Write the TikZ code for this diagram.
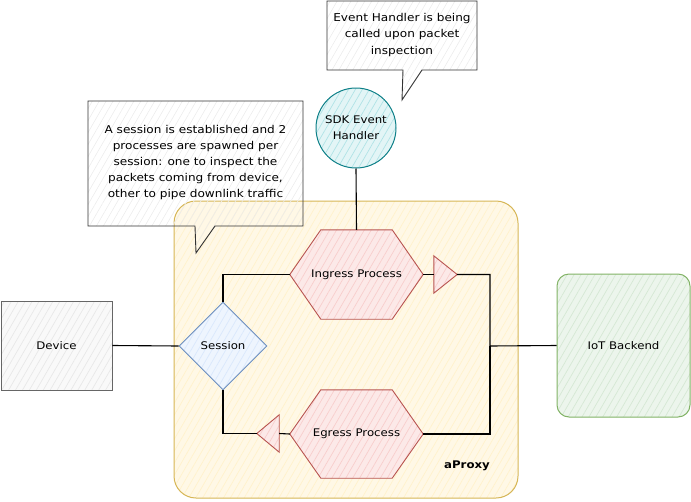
\documentclass[tikz,border=0pt]{standalone}
\usepackage{fontspec}
\setmainfont{DejaVu Sans}[FakeStretch=1.12]
\usetikzlibrary{shapes.geometric,patterns.meta,calc}
\definecolor{yfill}{HTML}{FFF2CC}\definecolor{ydraw}{HTML}{D6B656}
\definecolor{gfill}{HTML}{F5F5F5}\definecolor{gdraw}{HTML}{666666}
\definecolor{bfill}{HTML}{DAE8FC}\definecolor{bdraw}{HTML}{6C8EBF}
\definecolor{rfill}{HTML}{F8CECC}\definecolor{rdraw}{HTML}{B85450}
\definecolor{grfill}{HTML}{D5E8D4}\definecolor{grdraw}{HTML}{82B366}
\definecolor{tfill}{HTML}{B0E3E6}\definecolor{tdraw}{HTML}{0E8088}
\definecolor{cdraw}{HTML}{333333}
\begin{document}
\begin{tikzpicture}[x=1pt,y=-1pt,
  font=\fontsize{10.5}{16}\selectfont,
  hatch/.style 2 args={preaction={fill=#1},preaction={pattern={Lines[angle=60,distance=6pt,line width=0.7pt]},pattern color=#2}},
  conn/.style={draw=black,line width=1.1pt},
  box/.style={inner sep=0pt,align=center},
  devbox/.style={box,draw=gdraw,hatch={gfill!60}{gray!18},line width=0.9pt,minimum width=111pt,minimum height=89pt},
  sessbox/.style={box,diamond,draw=bdraw,hatch={bfill!45}{bfill},line width=0.9pt,minimum width=88pt,minimum height=88pt},
  iotbox/.style={box,draw=grdraw,hatch={grfill!45}{grfill},line width=1pt,rounded corners=12pt,minimum width=133pt,minimum height=143pt},
  sdkbox/.style={box,circle,draw=tdraw,hatch={tfill!35}{tfill},line width=1pt,minimum size=80pt},
  hexstyle/.style={draw=rdraw,hatch={rfill!45}{rfill},line width=0.9pt},
  slot/.style={box},
  callout/.style={draw=cdraw,line width=0.9pt,preaction={pattern={Lines[angle=60,distance=6pt,line width=0.6pt]},pattern color=gray!15}},
  container/.style={draw=ydraw,hatch={yfill!50}{yfill},line width=1pt,rounded corners=22pt}
]
\useasboundingbox (0,0) rectangle (691,501);

% container
\draw[container] (174,201) rectangle (518,498);
\node[box,font=\fontsize{10.5}{12}\selectfont\bfseries] (lbl) at (467,466) {aProxy};

% callout 1
\draw[callout] (88,101) -- (303,101) -- (303,226) -- (215,226) -- (196,253) -- (195,226) -- (88,226) -- cycle;
\node[box,font=\fontsize{10.8}{16}\selectfont] (c1) at (195.5,163) {A session is established and 2\\processes are spawned per\\session: one to inspect the\\packets coming from device,\\other to pipe downlink traffic};

% callout 2
\draw[callout] (327,1) -- (477,1) -- (477,70) -- (422,70) -- (402,100) -- (403,70) -- (327,70) -- cycle;
\node[box,font=\fontsize{10.8}{16.5}\selectfont] (c2) at (402,35) {Event Handler is being\\called upon packet\\inspection};

% nodes
\node[devbox] (dev) at (56.5,345.5) {Device};
\node[sessbox] (sess) at (223,346) {Session};
\node[iotbox] (iot) at (623.5,345.5) {IoT Backend};
\node[sdkbox] (sdk) at (356,128) {SDK Event\\Handler};

% hexagons
\node[slot,minimum width=133pt,minimum height=89pt] (ing) at (356.5,274.5) {};
\draw[hexstyle] (ing.west) -- ($(ing.north west)+(31,0)$) -- ($(ing.north east)+(-31,0)$) -- (ing.east) -- ($(ing.south east)+(-31,0)$) -- ($(ing.south west)+(31,0)$) -- cycle;
\node[box] (ingt) at (ing) {Ingress Process};

\node[slot,minimum width=133pt,minimum height=88pt] (eg) at (356.5,434) {};
\draw[hexstyle] (eg.west) -- ($(eg.north west)+(31,0)$) -- ($(eg.north east)+(-31,0)$) -- (eg.east) -- ($(eg.south east)+(-31,0)$) -- ($(eg.south west)+(31,0)$) -- cycle;
\node[box] (egt) at (eg) {Egress Process};

% triangles
\node[slot,minimum width=23pt,minimum height=37pt] (tri1) at (445.5,274.5) {};
\draw[hexstyle] (tri1.north west) -- (tri1.east) -- (tri1.south west) -- cycle;
\node[slot,minimum width=22pt,minimum height=37pt] (tri2) at (268,433.5) {};
\draw[hexstyle] (tri2.north east) -- (tri2.west) -- (tri2.south east) -- cycle;

\coordinate (jn) at (490,346);

% connectors
\draw[conn] (dev.east) -- (sess.west);
\draw[conn] (sess.north) |- (ing.west);
\draw[conn] (ing.east) -- (tri1.west);
\draw[conn] (tri1.east) -| (jn) -- (iot.west);
\draw[conn] (eg.east) -| (jn);
\draw[conn] (sess.south) |- (tri2.west);
\draw[conn] (eg.west) -- (tri2.east);
\draw[conn] (sdk.south) -- (ing.north);
\end{tikzpicture}
\end{document}
